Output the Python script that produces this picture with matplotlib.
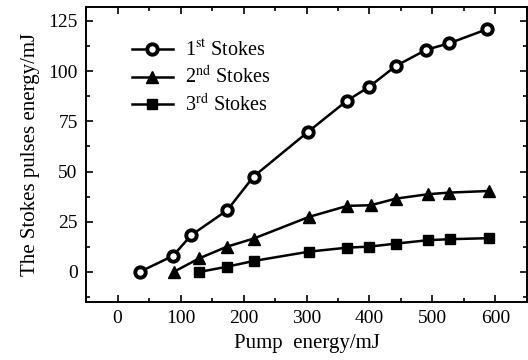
import matplotlib
matplotlib.use('Agg')
import matplotlib.pyplot as plt
from matplotlib.ticker import MultipleLocator

plt.rcParams['font.family'] = 'Liberation Serif'
plt.rcParams['mathtext.fontset'] = 'stix'
plt.rcParams['font.size'] = 12

# Valeurs
pump_1st = [35, 88, 117, 174, 216, 303, 364, 400, 442, 490, 527, 587]
stokes_1st = [0, 8, 18.3, 30.7, 47.5, 69.9, 85.2, 92.3, 102.6, 110.6, 113.9, 120.9]

pump_2nd = [89, 130, 174, 216, 304, 365, 402, 442, 493, 527, 589]
stokes_2nd = [0, 6.8, 12.6, 16.6, 27.4, 32.9, 33.2, 36.5, 38.7, 39.5, 40.3]

pump_3rd = [130, 174, 217, 304, 365, 400, 442, 493, 528, 589]
stokes_3rd = [0, 2.6, 5.5, 10.1, 12.1, 12.6, 14.1, 15.8, 16.3, 16.8]

fig = plt.figure(figsize=(5.28, 3.6), dpi=100)
ax = fig.add_axes([0.163, 0.161, 0.835, 0.82])

ax.plot(pump_1st, stokes_1st, '-o', color='black', lw=1.8, ms=7.5,
        mfc='white', mec='black', mew=2.8, label=r'1$^{\rm st}$ Stokes')
ax.plot(pump_2nd, stokes_2nd, '-^', color='black', lw=1.8, ms=8.5,
        label=r'2$^{\rm nd}$ Stokes')
ax.plot(pump_3rd, stokes_3rd, '-s', color='black', lw=1.8, ms=7,
        label=r'3$^{\rm rd}$ Stokes')

ax.set_xlim(-50, 650)
ax.set_ylim(-15, 132)
ax.xaxis.set_major_locator(MultipleLocator(100))
ax.xaxis.set_minor_locator(MultipleLocator(50))
ax.yaxis.set_major_locator(MultipleLocator(25))
ax.yaxis.set_minor_locator(MultipleLocator(12.5))
ax.tick_params(which='both', direction='in', top=True, right=True, width=1.2)
ax.tick_params(which='major', length=5, labelsize=14, pad=6)
ax.tick_params(which='minor', length=3)
for s in ax.spines.values():
    s.set_linewidth(1.4)

ax.set_xlabel('Pump  energy/mJ', fontsize=15, labelpad=5)
ax.set_ylabel('The Stokes pulses energy/mJ', fontsize=15, labelpad=6)

ax.legend(loc='upper left', frameon=False, fontsize=14.5, handlelength=2.0,
          handletextpad=0.6, borderaxespad=0.3, labelspacing=0.28,
          bbox_to_anchor=(0.073, 0.935))

fig.savefig('out.png', dpi=100)
